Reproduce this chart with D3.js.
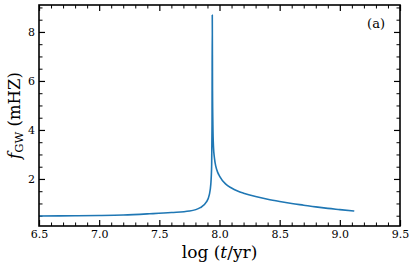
<!DOCTYPE html>
<html>
<head>
<meta charset="utf-8">
<script src="https://cdn.jsdelivr.net/npm/d3@7"></script>
<style>
  body { margin: 0; background: #fff; }
  svg { display: block; font-family: "DejaVu Serif", serif; }
  .tick text { font-family: "DejaVu Serif", serif; font-size: 11px; fill: #000; }
  .axis path, .axis line { stroke: #000; }
</style>
</head>
<body>
<svg id="chart" width="416" height="271"></svg>
<script>
// log(t/yr) samples
var logT = [6.50, 6.80, 7.00, 7.20, 7.42, 7.60, 7.75, 7.84, 7.89, 7.915, 7.928, 7.935, 7.938, 7.940,
            7.942, 7.945, 7.950, 7.958, 7.970, 7.985, 8.00, 8.05, 8.10, 8.15, 8.20, 8.30, 8.40, 8.50,
            8.60, 8.70, 8.80, 8.90, 9.00, 9.12];
// f_GW in mHz
var fGW  = [0.49, 0.50, 0.51, 0.53, 0.58, 0.63, 0.69, 0.83, 1.05, 1.35, 1.80, 2.60, 4.20, 8.69,
            5.60, 4.20, 3.30, 2.85, 2.50, 2.27, 2.12, 1.80, 1.63, 1.51, 1.42, 1.28, 1.17, 1.08,
            1.00, 0.93, 0.86, 0.80, 0.75, 0.69];

var xMajor = [6.5, 7.0, 7.5, 8.0, 8.5, 9.0, 9.5];
var yMajor = [2, 4, 6, 8];

var width = 416, height = 271;
var margin = {top: 5, right: 16, bottom: 45, left: 39};
var w = width - margin.left - margin.right;
var h = height - margin.top - margin.bottom;

var svg = d3.select('#chart');
var g = svg.append('g').attr('transform', 'translate(' + margin.left + ',' + margin.top + ')');

var x = d3.scaleLinear().domain([6.5, 9.5]).range([0, w]);
var y = d3.scaleLinear().domain([0.08, 9.10]).range([h, 0]);

var xMinor = d3.range(65, 96).map(function(d) { return d / 10; })
    .filter(function(d) { return xMajor.indexOf(d) == -1; });
var yMinor = d3.range(1, 19).map(function(d) { return d / 2; })
    .filter(function(d) { return yMajor.indexOf(d) == -1; });

function drawAxis(axisFn, scale, major, minor, transform, labels) {
    var a = g.append('g').attr('class', 'axis').attr('transform', transform);
    a.call(axisFn(scale).tickValues(minor).tickSize(-3.5).tickFormat(''));
    a.selectAll('path').remove();
    var b = g.append('g').attr('class', 'axis').attr('transform', transform);
    b.call(axisFn(scale).tickValues(major).tickSize(-6).tickPadding(4)
        .tickFormat(labels ? d3.format('.1f') : ''));
    b.select('path').remove();
    a.selectAll('line').attr('stroke-width', 1);
    b.selectAll('line').attr('stroke-width', 1.2);
    return b;
}

drawAxis(d3.axisBottom, x, xMajor, xMinor, 'translate(0,' + h + ')', true);
drawAxis(d3.axisTop, x, xMajor, xMinor, 'translate(0,0)', false);
var by = drawAxis(d3.axisLeft, y, yMajor, yMinor, 'translate(0,0)', false);
by.selectAll('.tick text').text(function(d) { return d; });
drawAxis(d3.axisRight, y, yMajor, yMinor, 'translate(' + w + ',0)', false);

// curve
var line = d3.line()
    .x(function(d, i) { return x(logT[i]); })
    .y(function(d, i) { return y(fGW[i]); })
    .curve(d3.curveMonotoneX);

g.append('path')
    .datum(logT)
    .attr('d', line)
    .attr('fill', 'none')
    .attr('stroke', '#1f77b4')
    .attr('stroke-width', 1.6)
    .attr('stroke-linejoin', 'round');

// frame
g.append('rect')
    .attr('width', w).attr('height', h)
    .attr('fill', 'none').attr('stroke', '#000').attr('stroke-width', 1.6);

// labels
var xl = svg.append('text')
    .attr('x', margin.left + w / 2).attr('y', 258)
    .attr('text-anchor', 'middle')
    .attr('font-size', 17);
xl.append('tspan').text('log (');
xl.append('tspan').attr('font-style', 'italic').text('t');
xl.append('tspan').text('/yr)');

var yl = svg.append('text')
    .attr('transform', 'translate(20,' + (margin.top + h / 2) + ') rotate(-90)')
    .attr('text-anchor', 'middle')
    .attr('font-size', 16.5);
yl.append('tspan').attr('font-style', 'italic').text('f');
yl.append('tspan').attr('font-size', 11.5).attr('dy', 3).text('GW');
yl.append('tspan').attr('dy', -3).text(' (mHZ)');

svg.append('text')
    .attr('x', 385).attr('y', 28)
    .attr('text-anchor', 'end')
    .attr('font-size', 13)
    .text('(a)');
</script>
</body>
</html>
